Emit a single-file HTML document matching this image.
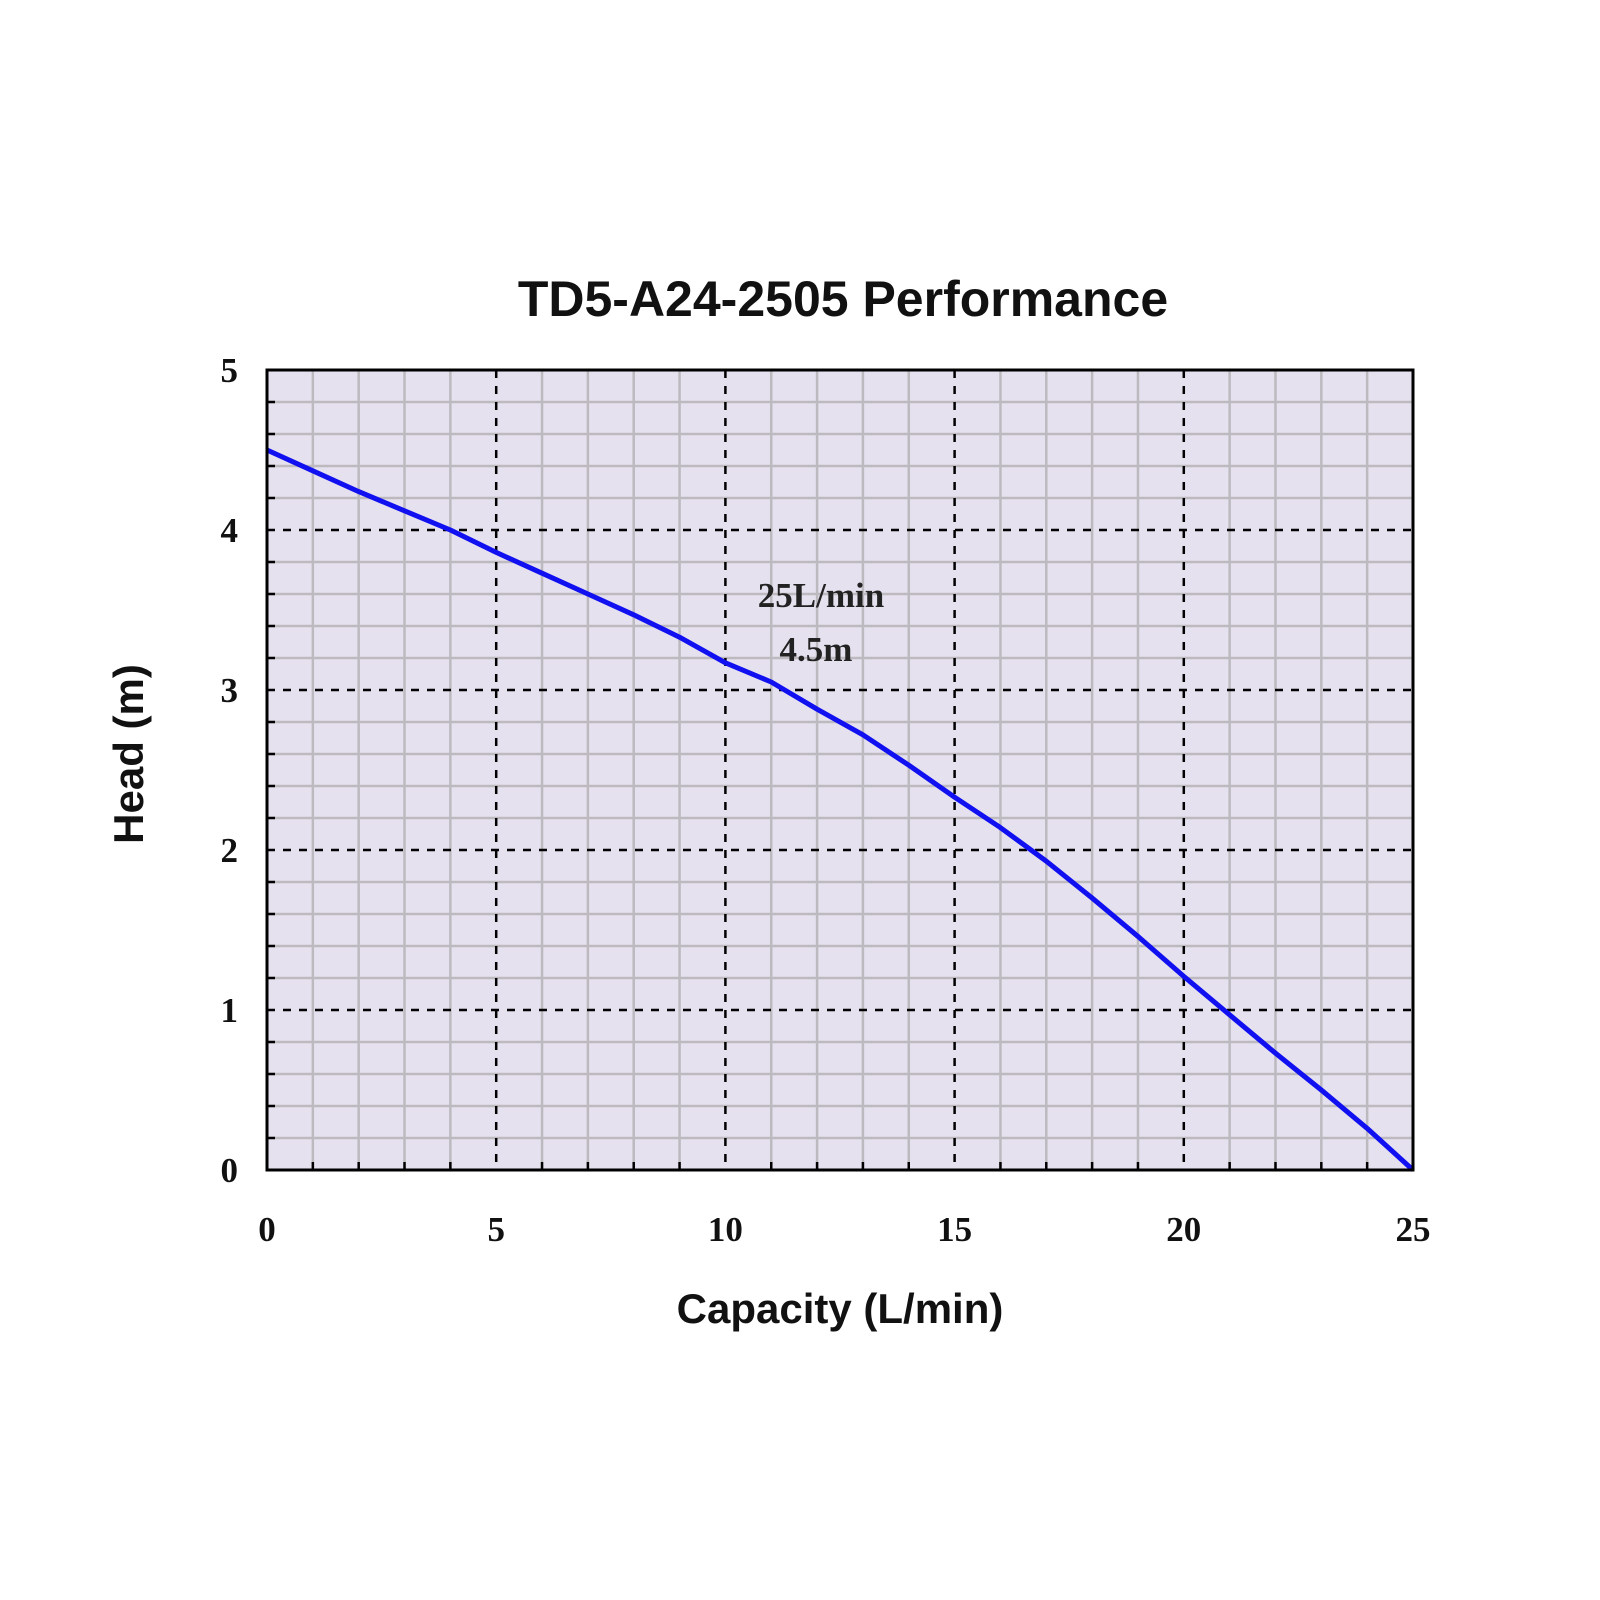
<!DOCTYPE html>
<html><head><meta charset="utf-8"><style>
html,body{margin:0;padding:0;background:#fff;}
svg{display:block;}
</style></head><body>
<svg id="chart" width="1600" height="1600" xmlns="http://www.w3.org/2000/svg">
<text x="843" y="316" text-anchor="middle" font-family="Liberation Sans, sans-serif" font-weight="bold" font-size="50" fill="#111">TD5-A24-2505 Performance</text>
<rect x="267" y="370" width="1146" height="800" fill="#e6e1ef"/>
<g id="grid"></g>
<path id="curve" fill="none" stroke="#1010f0" stroke-width="5" stroke-linejoin="round"/>
<rect x="267" y="370" width="1146" height="800" fill="none" stroke="#000" stroke-width="3"/>
<g id="labels"></g>
<text x="821" y="607" text-anchor="middle" font-family="Liberation Serif, serif" font-weight="bold" font-size="35" fill="#222">25L/min</text>
<text x="816" y="661" text-anchor="middle" font-family="Liberation Serif, serif" font-weight="bold" font-size="35" fill="#222">4.5m</text>
<text x="840" y="1323" text-anchor="middle" font-family="Liberation Sans, sans-serif" font-weight="bold" font-size="42" fill="#111">Capacity (L/min)</text>
<text transform="translate(143,754) rotate(-90)" text-anchor="middle" font-family="Liberation Sans, sans-serif" font-weight="bold" font-size="42" fill="#111">Head (m)</text>
</svg>
<script>
const capacity=[0,1,2,3,4,5,6,7,8,9,10,11,12,13,14,15,16,17,18,19,20,21,22,23,24,25];
const head=[4.5,4.37,4.24,4.12,4.0,3.86,3.73,3.6,3.47,3.33,3.17,3.05,2.88,2.72,2.53,2.33,2.14,1.93,1.7,1.46,1.21,0.97,0.73,0.5,0.26,0];
const xTicks=[0,5,10,15,20,25];
const yTicks=[0,1,2,3,4,5];
const X0=267,X1=1413,Y0=1170,Y1=370,XMAX=25,YMAX=5;
function sx(v){return X0+(X1-X0)*v/XMAX;}
function sy(v){return Y0-(Y0-Y1)*v/YMAX;}
const NS='http://www.w3.org/2000/svg';
const grid=document.getElementById('grid');
function line(x1,y1,x2,y2,stroke,w,dash){const l=document.createElementNS(NS,'line');l.setAttribute('x1',x1);l.setAttribute('y1',y1);l.setAttribute('x2',x2);l.setAttribute('y2',y2);l.setAttribute('stroke',stroke);l.setAttribute('stroke-width',w);if(dash)l.setAttribute('stroke-dasharray',dash);grid.appendChild(l);return l;}
for(let i=1;i<XMAX;i++){if(i%5===0)continue;const x=sx(i);
const l=line(x,Y1,x,Y0,'#bdbabf',2.5);


const t=line(x,Y0,x,Y0-8,'#000',2.5);

}
for(let i=1;i<YMAX*5;i++){if(i%5===0)continue;const y=sy(i/5);
const l=line(X0,y,X1,y,'#bdbabf',2.5);


const t=line(X0,y,X0+8,y,'#000',2.5);

}
xTicks.forEach(v=>{if(v===0||v===XMAX)return;const x=sx(v);
const l=line(x,Y1,x,Y0,'#000',2.5,'8,8');

});
yTicks.forEach(v=>{if(v===0||v===YMAX)return;const y=sy(v);
const l=line(X0,y,X1,y,'#000',2.5,'8,8');

});
let d='';capacity.forEach((c,i)=>{d+=(i?'L':'M')+sx(c).toFixed(1)+','+sy(head[i]).toFixed(1);});
document.getElementById('curve').setAttribute('d',d);
const labels=document.getElementById('labels');
function txt(x,y,s,anchor){const t=document.createElementNS(NS,'text');t.setAttribute('x',x);t.setAttribute('y',y);t.setAttribute('text-anchor',anchor);t.setAttribute('font-family','Liberation Serif, serif');t.setAttribute('font-weight','bold');t.setAttribute('font-size','35');t.setAttribute('fill','#111');t.textContent=s;labels.appendChild(t);return t;}
xTicks.forEach(v=>{const t=txt(sx(v),1241,String(v),'middle');

});
yTicks.forEach(v=>{const t=txt(238,sy(v)+12,String(v),'end');

});
</script>
</body></html>
